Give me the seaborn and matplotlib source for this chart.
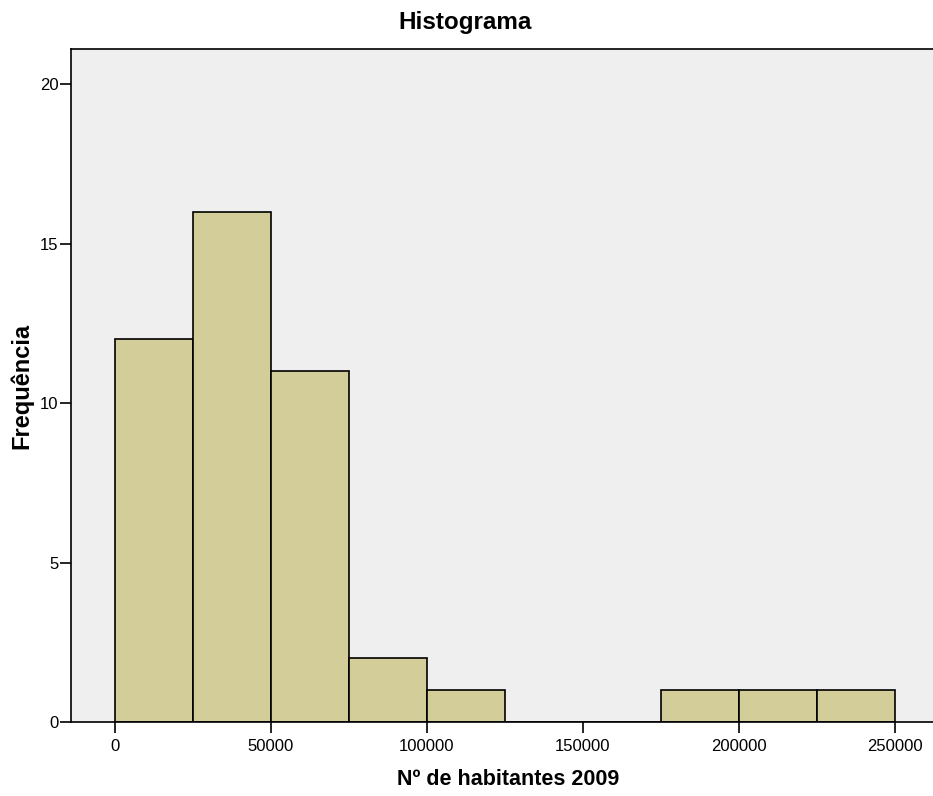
import matplotlib
matplotlib.use("Agg")
import matplotlib.pyplot as plt
import seaborn as sns
import numpy as np

bin_edges = [0, 25000, 50000, 75000, 100000, 125000, 150000, 175000, 200000, 225000, 250000]
counts = [12, 16, 11, 2, 1, 0, 0, 1, 1, 1]
x_ticks = [0, 50000, 100000, 150000, 200000, 250000]
y_ticks = [0, 5, 10, 15, 20]

sns.set_style("white")
plt.rcParams['font.family'] = ['Liberation Sans', 'DejaVu Sans']
plt.rcParams['text.color'] = 'black'
plt.rcParams['axes.labelcolor'] = 'black'
plt.rcParams['xtick.color'] = 'black'
plt.rcParams['ytick.color'] = 'black'

W, H = 933, 796
fig = plt.figure(figsize=(W / 100, H / 100), dpi=100)
ax = fig.add_axes([71 / W, (H - 722) / H, (945 - 71) / W, (722 - 49) / H])
ax.set_facecolor('#EFEFEF')

centers = [(bin_edges[i] + bin_edges[i + 1]) / 2 for i in range(len(counts))]
sns.histplot(x=centers, weights=counts, bins=bin_edges, ax=ax,
             color='#D3CE99', edgecolor='black', linewidth=1.2, alpha=1)

ax.set_xlim(-14103, 262179 + 4000)
ax.set_ylim(0, 21.1)
ax.set_xticks(x_ticks)
ax.set_xticklabels([str(v) for v in x_ticks])
ax.set_yticks(y_ticks)
ax.tick_params(axis='both', direction='out', length=8, width=1.2, labelsize=12,
               color='black', labelcolor='black', bottom=True, left=True)
ax.tick_params(axis='x', pad=4)
ax.tick_params(axis='y', pad=1)
for side in ['left', 'bottom', 'top']:
    ax.spines[side].set_visible(True)
    ax.spines[side].set_color('black')
    ax.spines[side].set_linewidth(1.2)
ax.spines['right'].set_visible(False)

ax.set_xlabel('Nº de habitantes 2009', fontsize=15.5, fontweight='bold', labelpad=11, color='black')
ax.set_ylabel('Frequência', fontsize=17, fontweight='bold', labelpad=5, color='black')
fig.text(465 / W, 1 - 22 / H, 'Histograma', fontsize=17.5, fontweight='bold', ha='center', va='center', color='black')

fig.savefig('out.png', dpi=100)
